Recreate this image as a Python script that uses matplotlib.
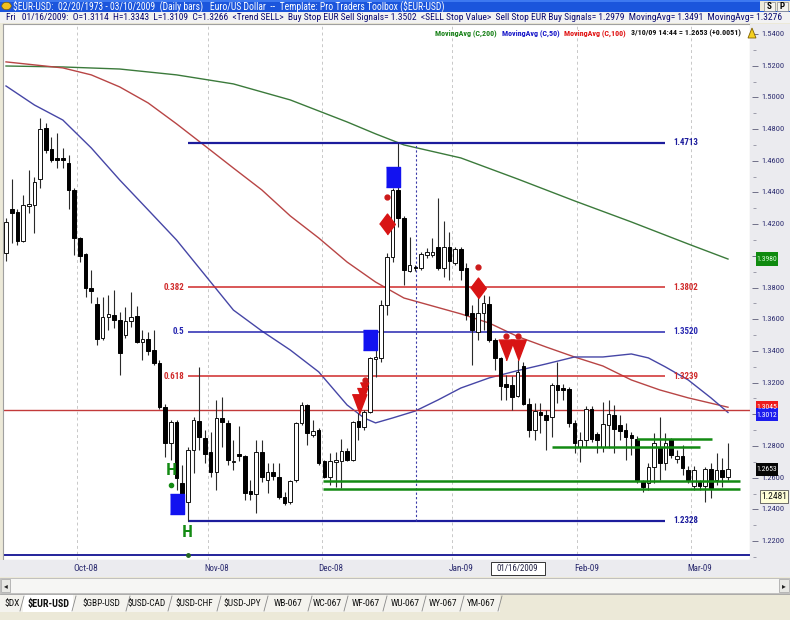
import matplotlib
matplotlib.use('Agg')
import matplotlib.pyplot as plt
from matplotlib.patches import Rectangle, Polygon, Circle
import numpy as np
import pandas as pd

# ---------------- data ----------------
dates = pd.bdate_range('2008-09-12', '2009-03-10')   # 128 daily bars

opens = [1.4019, 1.4296, 1.4277, 1.4094, 1.4315, 1.4321, 1.4485, 1.4807, 1.4675, 1.4618,
         1.4618, 1.4587, 1.4416, 1.4113, 1.4012, 1.3798, 1.3697, 1.3482, 1.3615, 1.3627,
         1.3596, 1.3501, 1.3590, 1.3621, 1.3457, 1.3476, 1.3407, 1.3325, 1.3047, 1.2820,
         1.2952, 1.2567, 1.2447, 1.2776, 1.2958, 1.2851, 1.2763, 1.2637, 1.2977, 1.2946,
         1.2700, 1.2750, 1.2738, 1.2517, 1.2498, 1.2763, 1.2586, 1.2637, 1.2605, 1.2479,
         1.2447, 1.2586, 1.2946, 1.3059, 1.2870, 1.2902, 1.2706, 1.2605, 1.2700, 1.2706,
         1.2769, 1.2712, 1.2958, 1.2921, 1.3015, 1.3350, 1.3356, 1.3691, 1.3993, 1.4416,
         1.4239, 1.3905, 1.3930, 1.3924, 1.4006, 1.4006, 1.4056, 1.3924, 1.4056, 1.3955,
         1.4044, 1.3924, 1.3640, 1.3520, 1.3640, 1.3697, 1.3470, 1.3356, 1.3192, 1.3186,
         1.3114, 1.3306, 1.3066, 1.2902, 1.3015, 1.2996, 1.2984, 1.3186, 1.3167, 1.3161,
         1.2946, 1.2795, 1.2839, 1.3034, 1.2876, 1.2795, 1.2933, 1.2996, 1.2933, 1.2902,
         1.2870, 1.2845, 1.2574, 1.2567, 1.2668, 1.2788, 1.2693, 1.2845, 1.2718, 1.2738,
         1.2649, 1.2548, 1.2574, 1.2548, 1.2656, 1.2586, 1.2649, 1.2602]
highs = [1.4239, 1.4485, 1.4296, 1.4385, 1.4542, 1.4498, 1.4870, 1.4839, 1.4751, 1.4776,
         1.4681, 1.4637, 1.4429, 1.4120, 1.4019, 1.3911, 1.3741, 1.3741, 1.3754, 1.3785,
         1.3646, 1.3678, 1.3773, 1.3684, 1.3533, 1.3520, 1.3533, 1.3343, 1.3066, 1.2965,
         1.2965, 1.2681, 1.2795, 1.2984, 1.3299, 1.2902, 1.2889, 1.3091, 1.3110, 1.2965,
         1.2839, 1.2927, 1.2744, 1.2586, 1.2839, 1.2839, 1.2693, 1.2693, 1.2693, 1.2511,
         1.2586, 1.2952, 1.3078, 1.3066, 1.2965, 1.2914, 1.2712, 1.2756, 1.2763, 1.2845,
         1.2788, 1.2958, 1.3009, 1.3028, 1.3362, 1.3425, 1.3722, 1.4019, 1.4429, 1.4713,
         1.4252, 1.4120, 1.3943, 1.4025, 1.4050, 1.4113, 1.4366, 1.4221, 1.4151, 1.4056,
         1.4056, 1.3955, 1.3691, 1.3754, 1.3754, 1.3747, 1.3482, 1.3362, 1.3249, 1.3242,
         1.3343, 1.3331, 1.3103, 1.3072, 1.3072, 1.3028, 1.3198, 1.3331, 1.3192, 1.3173,
         1.2965, 1.2889, 1.3053, 1.3053, 1.2889, 1.3078, 1.3091, 1.3059, 1.2996, 1.2946,
         1.2889, 1.2864, 1.2586, 1.2693, 1.2883, 1.2984, 1.2883, 1.2851, 1.2775, 1.2807,
         1.2674, 1.2674, 1.2586, 1.2668, 1.2693, 1.2757, 1.2725, 1.2820]
lows = [1.3968, 1.4082, 1.4069, 1.4088, 1.4271, 1.4145, 1.4429, 1.4650, 1.4593, 1.4555,
        1.4555, 1.4296, 1.4006, 1.3962, 1.3741, 1.3703, 1.3438, 1.3470, 1.3533, 1.3545,
        1.3249, 1.3482, 1.3552, 1.3451, 1.3343, 1.3375, 1.3312, 1.3034, 1.2731, 1.2712,
        1.2523, 1.2397, 1.2328, 1.2630, 1.2776, 1.2693, 1.2605, 1.2523, 1.2795, 1.2681,
        1.2649, 1.2706, 1.2460, 1.2460, 1.2378, 1.2574, 1.2504, 1.2586, 1.2466, 1.2428,
        1.2435, 1.2574, 1.2933, 1.2807, 1.2857, 1.2681, 1.2599, 1.2555, 1.2542, 1.2536,
        1.2706, 1.2706, 1.2839, 1.2902, 1.3009, 1.3236, 1.3331, 1.3628, 1.3962, 1.4183,
        1.3817, 1.3899, 1.3905, 1.3911, 1.3987, 1.3993, 1.3911, 1.3867, 1.3848, 1.3943,
        1.3848, 1.3596, 1.3312, 1.3470, 1.3533, 1.3457, 1.3280, 1.3091, 1.3091, 1.3028,
        1.3109, 1.3060, 1.2857, 1.2839, 1.2883, 1.2776, 1.2857, 1.3072, 1.3091, 1.2921,
        1.2756, 1.2700, 1.2795, 1.2826, 1.2756, 1.2763, 1.2788, 1.2756, 1.2839, 1.2712,
        1.2744, 1.2567, 1.2511, 1.2523, 1.2567, 1.2586, 1.2649, 1.2725, 1.2693, 1.2618,
        1.2567, 1.2523, 1.2523, 1.2447, 1.2472, 1.2555, 1.2542, 1.2586]
closes = [1.4214, 1.4271, 1.4094, 1.4321, 1.4328, 1.4467, 1.4801, 1.4668, 1.4605, 1.4605,
          1.4605, 1.4416, 1.4113, 1.4000, 1.3798, 1.3779, 1.3476, 1.3615, 1.3634, 1.3596,
          1.3388, 1.3590, 1.3615, 1.3457, 1.3476, 1.3400, 1.3325, 1.3047, 1.2820, 1.2952,
          1.2599, 1.2460, 1.2776, 1.2965, 1.2857, 1.2750, 1.2637, 1.2977, 1.2952, 1.2712,
          1.2706, 1.2738, 1.2504, 1.2498, 1.2763, 1.2605, 1.2637, 1.2611, 1.2479, 1.2441,
          1.2580, 1.2946, 1.3059, 1.2883, 1.2895, 1.2693, 1.2605, 1.2706, 1.2712, 1.2769,
          1.2712, 1.2952, 1.2921, 1.3015, 1.3356, 1.3362, 1.3691, 1.3993, 1.4416, 1.4239,
          1.3911, 1.3943, 1.3924, 1.4012, 1.4025, 1.4025, 1.3924, 1.4056, 1.3968, 1.4044,
          1.3911, 1.3627, 1.3533, 1.3640, 1.3703, 1.3470, 1.3356, 1.3179, 1.3173, 1.3110,
          1.3266, 1.3066, 1.2902, 1.3022, 1.2996, 1.2965, 1.3186, 1.3154, 1.3154, 1.2946,
          1.2820, 1.2839, 1.3034, 1.2845, 1.2839, 1.2940, 1.3003, 1.2908, 1.2895, 1.2857,
          1.2851, 1.2586, 1.2542, 1.2668, 1.2820, 1.2693, 1.2820, 1.2744, 1.2738, 1.2662,
          1.2586, 1.2649, 1.2548, 1.2656, 1.2536, 1.2649, 1.2602, 1.2653]

# moving averages (bar index -> value)
ma200_idx = [0, 10, 20, 30, 40, 50, 60, 65, 70, 80, 90, 100, 110, 120, 127]
ma200 = [1.5198, 1.5192, 1.5179, 1.5142, 1.5085, 1.4984, 1.4845, 1.4770, 1.4700, 1.4618,
         1.4485, 1.4347, 1.4214, 1.4075, 1.3980]
ma100_idx = [0, 10, 15, 20, 25, 30, 35, 40, 45, 50, 55, 60, 65, 70, 75, 80, 85, 90, 95,
             100, 105, 110, 115, 120, 127]
ma100 = [1.5224, 1.5186, 1.5142, 1.5066, 1.4965, 1.4833, 1.4694, 1.4554, 1.4416, 1.4252,
         1.4113, 1.3961, 1.3835, 1.3734, 1.3684, 1.3634, 1.3576, 1.3491, 1.3425, 1.3362,
         1.3305, 1.3217, 1.3154, 1.3104, 1.3045]
ma50_idx = [0, 5, 10, 15, 20, 25, 30, 35, 40, 45, 50, 55, 60, 63, 65, 68, 72, 76, 80, 85,
            90, 95, 100, 105, 110, 113, 116, 120, 124, 127]
ma50 = [1.5072, 1.4952, 1.4857, 1.4681, 1.4479, 1.4290, 1.4100, 1.3879, 1.3658, 1.3526,
        1.3406, 1.3268, 1.3059, 1.2977, 1.2946, 1.2977, 1.3021, 1.3091, 1.3166, 1.3230,
        1.3276, 1.3318, 1.3362, 1.3362, 1.3381, 1.3356, 1.3299, 1.3217, 1.3104, 1.3012]

# Fibonacci retracement between the Oct low and Dec high
fib_low_idx, fib_high_idx, fib_end_idx = 32, 69, 116
fib_levels = [1.4713, 1.3802, 1.3520, 1.3239, 1.2328]
fib_names = ['', '0.382', '0.5', '0.618', '']
fib_texts = ['1.4713', '1.3802', '1.3520', '1.3239', '1.2328']

# other horizontal lines
trend_line = 1.3025
bottom_line = 1.2112
green_long = [1.2579, 1.2530]
green_long_start = 55.8
green_short = [(1.2795, 96.0, 122.0), (1.2845, 111.0, 124.2)]

# signals
buy_sq_idx = [30, 64, 68]
buy_sq_val = [1.2434, 1.3469, 1.4498]
diam_idx = [67, 83]
diam_val = [1.4202, 1.3798]
diam_dot = [1.4372, 1.3930]
tri_idx = [88, 90]
tri_val = [1.3406, 1.3406]
tri_dot = [1.3494, 1.3494]
stack_idx = [62.1, 62.6, 63.0]
stack_val = [1.3066, 1.3122, 1.3166]
stack_dot = (63.1, 1.3217)
h_marks = [(29.0, 1.2643), (31.8, 1.2252)]
h_dot = (29.0, 1.2555)

price_ticks = np.round(np.arange(1.20, 1.5401, 0.02), 2)
cursor_idx = 90

title_str = (r'\$EUR-USD:  02/20/1973 - 03/10/2009  (Daily bars)   Euro/US Dollar  --  '
             r'Template: Pro Traders Toolbox (\$EUR-USD)')
info_str = ('Fri   01/16/2009:  O=1.3114  H=1.3343  L=1.3109  C=1.3266  <Trend SELL>  '
            'Buy Stop EUR Sell Signals= 1.3502  <SELL Stop Value>  '
            'Sell Stop EUR Buy Signals= 1.2979  MovingAvg= 1.3491  MovingAvg= 1.3276')
legend_items = [('MovingAvg (C,200)', '#168016'), ('MovingAvg (C,50)', '#1414c8'),
                ('MovingAvg (C,100)', '#e01010'),
                ('3/10/09 14:44 = 1.2653 (+0.0051)', '#111111')]
tabs = [r'\$DX', r'\$EUR-USD', r'\$GBP-USD', r'\$USD-CAD', r'\$USD-CHF', r'\$USD-JPY',
        'WB-067', 'WC-067', 'WF-067', 'WU-067', 'WY-067', 'YM-067']

# ---------------- figure ----------------
W, H = 790, 620
def fx(x): return x / W
def fy(y): return 1 - y / H

FN = ['Roboto Condensed', 'Open Sans Condensed', 'Liberation Sans Narrow',
      'DejaVu Sans Condensed', 'DejaVu Sans']
plt.rcParams['font.family'] = FN
plt.rcParams['font.stretch'] = 'condensed'

fig = plt.figure(figsize=(7.9, 6.2), dpi=100)
fig.patch.set_facecolor('#ece9d8')
renderer = fig.canvas.get_renderer()

def prect(x0, y0, x1, y1, **kw):
    r = Rectangle((fx(x0), fy(y1)), fx(x1) - fx(x0), fy(y0) - fy(y1),
                  transform=fig.transFigure, figure=fig, **kw)
    fig.patches.append(r)
    return r

def ptext(x, y, s, **kw):
    kw.setdefault('va', 'center')
    return fig.text(fx(x), fy(y), s, **kw)

def tw(t):
    return t.get_window_extent(renderer).width

def fit(t, width):
    w = tw(t)
    if w > width:
        t.set_fontsize(t.get_fontsize() * width / w)
    return t

def seq(x0, x1, y, items, size, gap, **kw):
    ts = [ptext(x0, y, s, color=col, fontsize=size, ha='left', **kw) for s, col in items]
    total = sum(tw(t) for t in ts) + gap * (len(ts) - 1)
    sc = min(1.0, (x1 - x0) / total)
    for t in ts:
        t.set_fontsize(size * sc)
    x = x0
    for t in ts:
        t.set_x(fx(x))
        x += tw(t) + gap
    return ts

# title bar
prect(0, 0, 790, 12, facecolor='#1b55dc', edgecolor='none')
prect(0, 0, 790, 2, facecolor='#3d78f0', edgecolor='none')
prect(760, 1, 790, 11, facecolor='#ece9d8', edgecolor='none')
prect(764, 2, 775, 11, facecolor='#f4f3ee', edgecolor='#888888', lw=0.5)
prect(777, 2, 788, 11, facecolor='#f4f3ee', edgecolor='#888888', lw=0.5)
ptext(769.5, 6.5, 'S', color='black', fontsize=6.5, ha='center', fontweight='bold')
ptext(782.5, 6.5, 'P', color='black', fontsize=6.5, ha='center', fontweight='bold')
fig.patches.append(Circle((fx(6.5), fy(6)), 0.006, transform=fig.transFigure,
                          facecolor='#f0c020', edgecolor='#806000', lw=0.5))
fit(ptext(13, 6.5, title_str, color='white', fontsize=7.6, ha='left'), 423)

# info line
prect(0, 12, 790, 23, facecolor='#f2f2f2', edgecolor='none')
fit(ptext(6, 17.5, info_str, color='#0a0a70', fontsize=7.6, ha='left'), 764)

# main axes
y_top_px, y_bot_px = 24, 560
def price_at(ypx): return 1.56145 - 0.000631 * ypx
ax = fig.add_axes([fx(3), fy(y_bot_px), fx(750) - fx(3), fy(y_top_px) - fy(y_bot_px)])
ax.set_facecolor('white')
ax.set_ylim(price_at(y_bot_px), price_at(y_top_px))
ax.set_xlim((3 - 6) / 5.685, (750 - 6) / 5.685)
ax.set_xticks([]); ax.set_yticks([])
for sp in ax.spines.values():
    sp.set_color('#a0a0a0'); sp.set_linewidth(0.8)

idx = np.arange(len(opens))
o = np.array(opens); h = np.array(highs); l = np.array(lows); c = np.array(closes)

# month gridlines
month_first = [i for i in range(1, len(dates)) if dates[i].month != dates[i - 1].month]
for i in month_first:
    ax.axvline(i - 0.5, color='#c8c8c8', lw=0.7, ls=(0, (3, 3)), zorder=0)

# moving averages
ax.plot(ma200_idx, ma200, color='#3b7a3b', lw=1.0, zorder=2)
ax.plot(ma100_idx, ma100, color='#b84545', lw=1.0, zorder=2)
ax.plot(ma50_idx, ma50, color='#4646a6', lw=1.0, zorder=2)

# horizontal lines
ax.axhline(trend_line, color='#c23a3a', lw=1.0, zorder=2)
ax.axhline(bottom_line, color='#22229a', lw=1.4, zorder=2)
ax.plot([fib_low_idx], [bottom_line], 'o', color='#226622', ms=2.5, zorder=3)
fib_cols = ['#1c1c9c', '#d02a2a', '#2626b0', '#d02a2a', '#1c1c9c']
fib_lw = [1.6, 1.1, 1.1, 1.1, 1.6]
for lv, nm, tx, col, lw in zip(fib_levels, fib_names, fib_texts, fib_cols, fib_lw):
    ax.hlines(lv, fib_low_idx, fib_end_idx, color=col, lw=lw, zorder=2)
    t = ax.text(fib_end_idx + 1.4, lv, tx, color=col, fontsize=6.5, fontweight='bold',
                ha='left', va='center', zorder=6)
    fit(t, 25)
    if nm:
        t = ax.text(fib_low_idx - 0.7, lv, nm, color=col, fontsize=6.5, fontweight='bold',
                    ha='right', va='center', zorder=6)
        fit(t, 4.2 * len(nm))
ax.vlines(72.1, fib_levels[-1], fib_levels[0], color='#3a3aa8', lw=0.8,
          linestyles=(0, (2, 2)), zorder=2)

for lv in green_long:
    ax.hlines(lv, green_long_start, 129.1, color='#138a13', lw=1.8, zorder=5)
for lv, a, b in green_short:
    ax.hlines(lv, a, b, color='#138a13', lw=1.8, zorder=5)

# candles
up = c >= o
body_lo = np.minimum(o, c)
body_h = np.maximum(np.abs(c - o), 0.0005)
ax.vlines(idx, l, h, color='#2a2a2a', lw=0.8, zorder=3)
ax.bar(idx[up], body_h[up], bottom=body_lo[up], width=0.64, facecolor='white',
       edgecolor='#111111', lw=0.7, zorder=4)
ax.bar(idx[~up], body_h[~up], bottom=body_lo[~up], width=0.64, facecolor='black',
       edgecolor='black', lw=0.7, zorder=4)

# signals
sq = [(-0.68, -1), (0.68, -1), (0.68, 1), (-0.68, 1)]
ax.plot(buy_sq_idx, buy_sq_val, ls='none', marker=sq, ms=15, color='#1212f0', zorder=7)
dm = [(0, -1), (0.75, 0), (0, 1), (-0.75, 0)]
ax.plot(diam_idx, diam_val, ls='none', marker=dm, ms=15, color='#d81414', zorder=7)
ax.plot(diam_idx, diam_dot, ls='none', marker='o', ms=3.5, color='#cc1a1a', zorder=7)
tv = [(-0.75, 1), (0.75, 1), (0, -1)]
ax.plot(tri_idx, tri_val, ls='none', marker=tv, ms=15, color='#d81414', zorder=7)
ax.plot(tri_idx, tri_dot, ls='none', marker='o', ms=3.5, color='#cc1a1a', zorder=7)
for (xi, yv, ms) in zip(stack_idx, stack_val, [14, 10, 8]):
    ax.plot([xi], [yv], ls='none', marker=tv, ms=ms, color='#d81414', zorder=7)
ax.plot([stack_dot[0]], [stack_dot[1]], ls='none', marker='o', ms=3.5, color='#cc1a1a', zorder=7)
for (xi, yv) in h_marks:
    ax.text(xi, yv, 'H', color='#138a13', fontsize=10.5, fontweight='bold',
            ha='center', va='center', zorder=7, family=['DejaVu Sans'])
ax.plot([h_dot[0]], [h_dot[1]], ls='none', marker='o', ms=3, color='#138a13', zorder=7)

# legend line inside plot
seq(435, 740, 33, legend_items, 7.0, 5, fontweight='bold')
bell = Polygon([(fx(748), fy(38)), (fx(756), fy(38)), (fx(752), fy(28))], closed=True,
               transform=fig.transFigure, facecolor='#f4d020', edgecolor='#806000', lw=0.6)
fig.patches.append(bell)

# right price axis
axr = fig.add_axes([fx(750), fy(y_bot_px), fx(790) - fx(750), fy(y_top_px) - fy(y_bot_px)])
axr.set_facecolor('#ebebef')
axr.set_ylim(ax.get_ylim()); axr.set_xlim(0, 1)
axr.set_xticks([]); axr.set_yticks([])
for sp in axr.spines.values():
    sp.set_visible(False)
minor = np.round(np.arange(1.21, 1.54, 0.02), 2)
axr.hlines(minor, 0.07, 0.15, color='#9090a0', lw=0.6)
axr.hlines(price_ticks, 0.05, 0.19, color='#707088', lw=0.7)
tag_vals = [ma200[-1], ma100[-1], ma50[-1]]
for t in price_ticks:
    if min(abs(t - v) for v in tag_vals) < 0.005:
        continue   # hidden behind the value tags
    fit(axr.text(0.58, t, f'{t:.4f}', color='#2c2c70', fontsize=6.8, ha='center',
                 va='center'), 23)

def tag(val, txt, fc, tc, x0=0.15, x1=0.70, ec='none'):
    axr.add_patch(Rectangle((x0, val - 0.0042), x1 - x0, 0.0084, facecolor=fc,
                            edgecolor=ec, lw=0.6, zorder=5))
    t = axr.text((x0 + x1) / 2, val, txt, color=tc, fontsize=6.8, ha='center',
                 va='center', zorder=6)
    fit(t, (x1 - x0) * 40 - 1)

tag(ma200[-1], f'{ma200[-1]:.4f}', '#0f8a0f', '#d8ffd8')
tag(ma100[-1], f'{ma100[-1]:.4f}', '#ee1c1c', 'white')
tag(ma50[-1] - 0.0013, f'{ma50[-1]:.4f}', '#1c1cee', 'white')
tag(closes[-1], f'{closes[-1]:.4f}', '#050505', 'white')
tag(1.2481, '1.2481', '#ffffd8', '#111111', x0=0.25, x1=0.95, ec='#555555')

# x axis band
prect(0, 560, 790, 577, facecolor='#ebebef', edgecolor='none')
for i in month_first:
    xp = 6 + 5.685 * (i - 0.5) + 9
    fit(ptext(xp, 568.5, dates[i].strftime('%b-%y'), color='#2c2c70', fontsize=6.8,
              ha='center'), 25)
xc = 6 + 5.685 * cursor_idx
prect(xc - 27, 562, xc + 27, 575, facecolor='white', edgecolor='#333333', lw=0.7)
fit(ptext(xc, 568.5, dates[cursor_idx].strftime('%m/%d/%Y'), color='#222244', fontsize=6.8,
          ha='center'), 42)

# scrollbar
prect(0, 578, 790, 593, facecolor='#f6f6f4', edgecolor='#b8b8b8', lw=0.6)
prect(1, 579, 10, 592, facecolor='#e8e8e4', edgecolor='#a0a0a0', lw=0.5)
prect(779, 579, 789, 592, facecolor='#e8e8e4', edgecolor='#a0a0a0', lw=0.5)
ptext(5.5, 585.5, '\u25C2', color='#222222', fontsize=6, ha='center', family=['DejaVu Sans'])
ptext(784, 585.5, '\u25B8', color='#222222', fontsize=6, ha='center', family=['DejaVu Sans'])

# tabs
tab_x = [12, 48, 101, 147, 194, 242, 288, 327, 366, 405, 443, 481]
tab_w = [17, 42, 38, 38, 38, 38, 30, 30, 30, 30, 30, 30]
prect(0, 594, 500, 612, facecolor='#f4f3ee', edgecolor='none')
prect(23, 594, 73, 612, facecolor='white', edgecolor='none')
for x, s, wdt in zip(tab_x, tabs, tab_w):
    bold = 'EUR' in s
    fit(ptext(x, 603.5, s, color='#111111', fontsize=7.8 if bold else 6.8,
              fontweight='bold' if bold else 'normal', ha='center'), wdt)
seps = [22, 74, 128, 170, 219, 266, 310, 346, 385, 424, 462, 500]
for sx in seps:
    fig.lines.append(plt.Line2D([fx(sx - 2), fx(sx + 2)], [fy(611), fy(596)],
                                transform=fig.transFigure, color='#888888', lw=0.6))
fig.lines.append(plt.Line2D([0, 1], [fy(594), fy(594)], transform=fig.transFigure,
                            color='#a0a0a0', lw=0.6))

fig.savefig('out.png', dpi=100, facecolor=fig.get_facecolor())
